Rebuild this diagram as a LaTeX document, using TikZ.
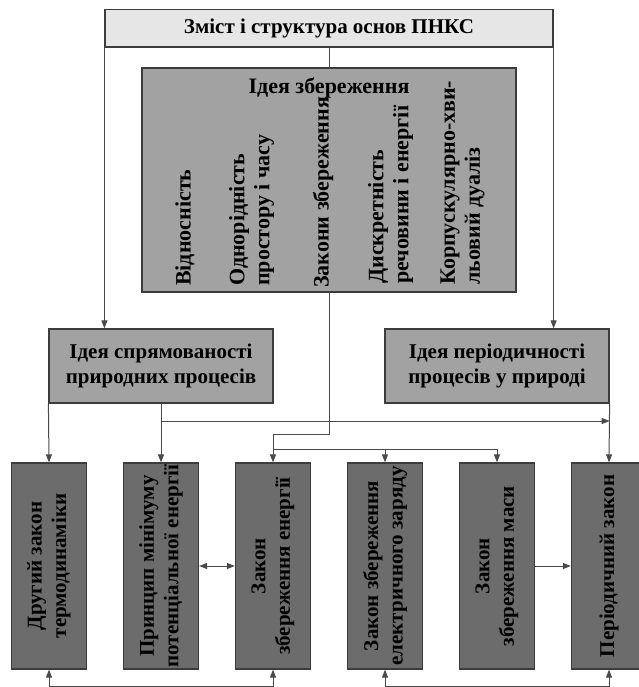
\documentclass[tikz,border=0pt]{standalone}
\usepackage{fontspec}
\setmainfont{Liberation Serif}
\usetikzlibrary{arrows.meta}

\definecolor{boxline}{HTML}{3C3C3C}
\definecolor{wireline}{HTML}{4A4A4A}
\definecolor{topfill}{HTML}{E6E6E6}
\definecolor{ideafill}{HTML}{A2A2A2}
\definecolor{lawfill}{HTML}{6C6C6C}

\tikzset{
	boxfont/.style={font=\fontsize{21}{24.5}\selectfont\bfseries},
	colfont/.style={font=\fontsize{22}{25}\selectfont\bfseries},
	boxbase/.style={draw=boxline, line width=1.2pt, inner sep=0pt, boxfont},
	titlebox/.style={boxbase, fill=topfill, minimum width=448pt, minimum height=37.5pt},
	ideabox/.style={boxbase, fill=ideafill, minimum width=224pt, minimum height=74pt, align=center},
	lawbox/.style={boxbase, fill=lawfill, minimum width=75pt, minimum height=206pt},
	coltext/.style={colfont, rotate=90, inner sep=0pt, align=left, anchor=west},
	lawtext/.style={boxfont, rotate=90, inner sep=0pt, align=center},
	wire/.style={draw=wireline, line width=1pt},
	arr/.style={wire, -{Triangle[length=8pt,width=6pt]}},
	darr/.style={wire, {Triangle[length=8pt,width=6pt]}-{Triangle[length=8pt,width=6pt]}}
}

\begin{document}
\begin{tikzpicture}[x=1pt, y=-1pt]
			%%%%% START %%%%%
			\useasboundingbox (0,0) rectangle (638,687);
			
			\node[titlebox] (title) at (329,28.25) {Зміст і структура основ ПНКС};
			
			\node[boxbase, fill=ideafill, minimum width=374pt, minimum height=224pt] (zb) at (329,180) {};
			\node[colfont] (zbtitle) at (329,88) {Ідея збереження};
			\node[coltext] (c1) at (185,286) {Відносність};
			\node[coltext] (c2) at (251.5,286) {Однорідність\\простору і часу};
			\node[coltext] (c3) at (323,288) {Закони збереження};
			\node[coltext] (c4) at (390.5,284) {Дискретність\\речовини і енергії};
			\node[coltext] (c5) at (462.5,285) {Корпускулярно-хви-\\льовий дуаліз};
			
			\node[ideabox] (spr) at (161,366) {Ідея спрямованості\\природних процесів};
			\node[ideabox] (per) at (497,366) {Ідея періодичності\\процесів у природі};
			
			\node[lawbox] (b1) at (49,566) {};
			\node[lawbox] (b2) at (161,566) {};
			\node[lawbox] (b3) at (273,566) {};
			\node[lawbox] (b4) at (385,566) {};
			\node[lawbox] (b5) at (497,566) {};
			\node[lawbox] (b6) at (609,566) {};
			
			\node[lawtext] (t1) at (b1) {Другий закон\\термодинаміки};
			\node[lawtext] (t2) at (b2) {Принцип мінімуму\\потенціальної енергії};
			\node[lawtext] (t3) at (b3) {Закон\\збереження енергії};
			\node[lawtext] (t4) at (b4) {Закон збереження\\електричного заряду};
			\node[lawtext] (t5) at (b5) {Закон\\збереження маси};
			\node[lawtext] (t6) at (b6) {Періодичний закон};
			
			\coordinate (zbturn) at (329,434);
			\coordinate (lawfork) at (273,449);
			\coordinate (sprfork) at (161,421);
			\coordinate (foot) at (0,686);
			
			\draw[wire] (title.south) -- (zb.north);
			\draw[arr] (title.south west) -- (title.south west |- spr.north);
			\draw[arr] (title.south east) -- (title.south east |- per.north);
			
			\draw[arr] (spr.south west) -- (b1.north);
			\draw[arr] (spr.south) -- (b2.north);
			\draw[arr] (sprfork) -- (sprfork -| per.south east);
			\draw[arr] (per.south east) -- (b6.north);
			
			\draw[arr] (zb.south) -- (zbturn) -| (b3.north);
			\draw[arr] (lawfork) -| (b4.north);
			\draw[arr] (lawfork) -| (b5.north);
			
			\draw[darr] (b2.east) -- (b3.west);
			\draw[arr] (b5.east) -- (b6.west);
			
			\draw[darr] (b1.south) -- (b1.south |- foot) -| (b3.south);
			\draw[darr] (b4.south) -- (b4.south |- foot) -| (b6.south);
			%%%%% END %%%%%
\end{tikzpicture}
\end{document}
